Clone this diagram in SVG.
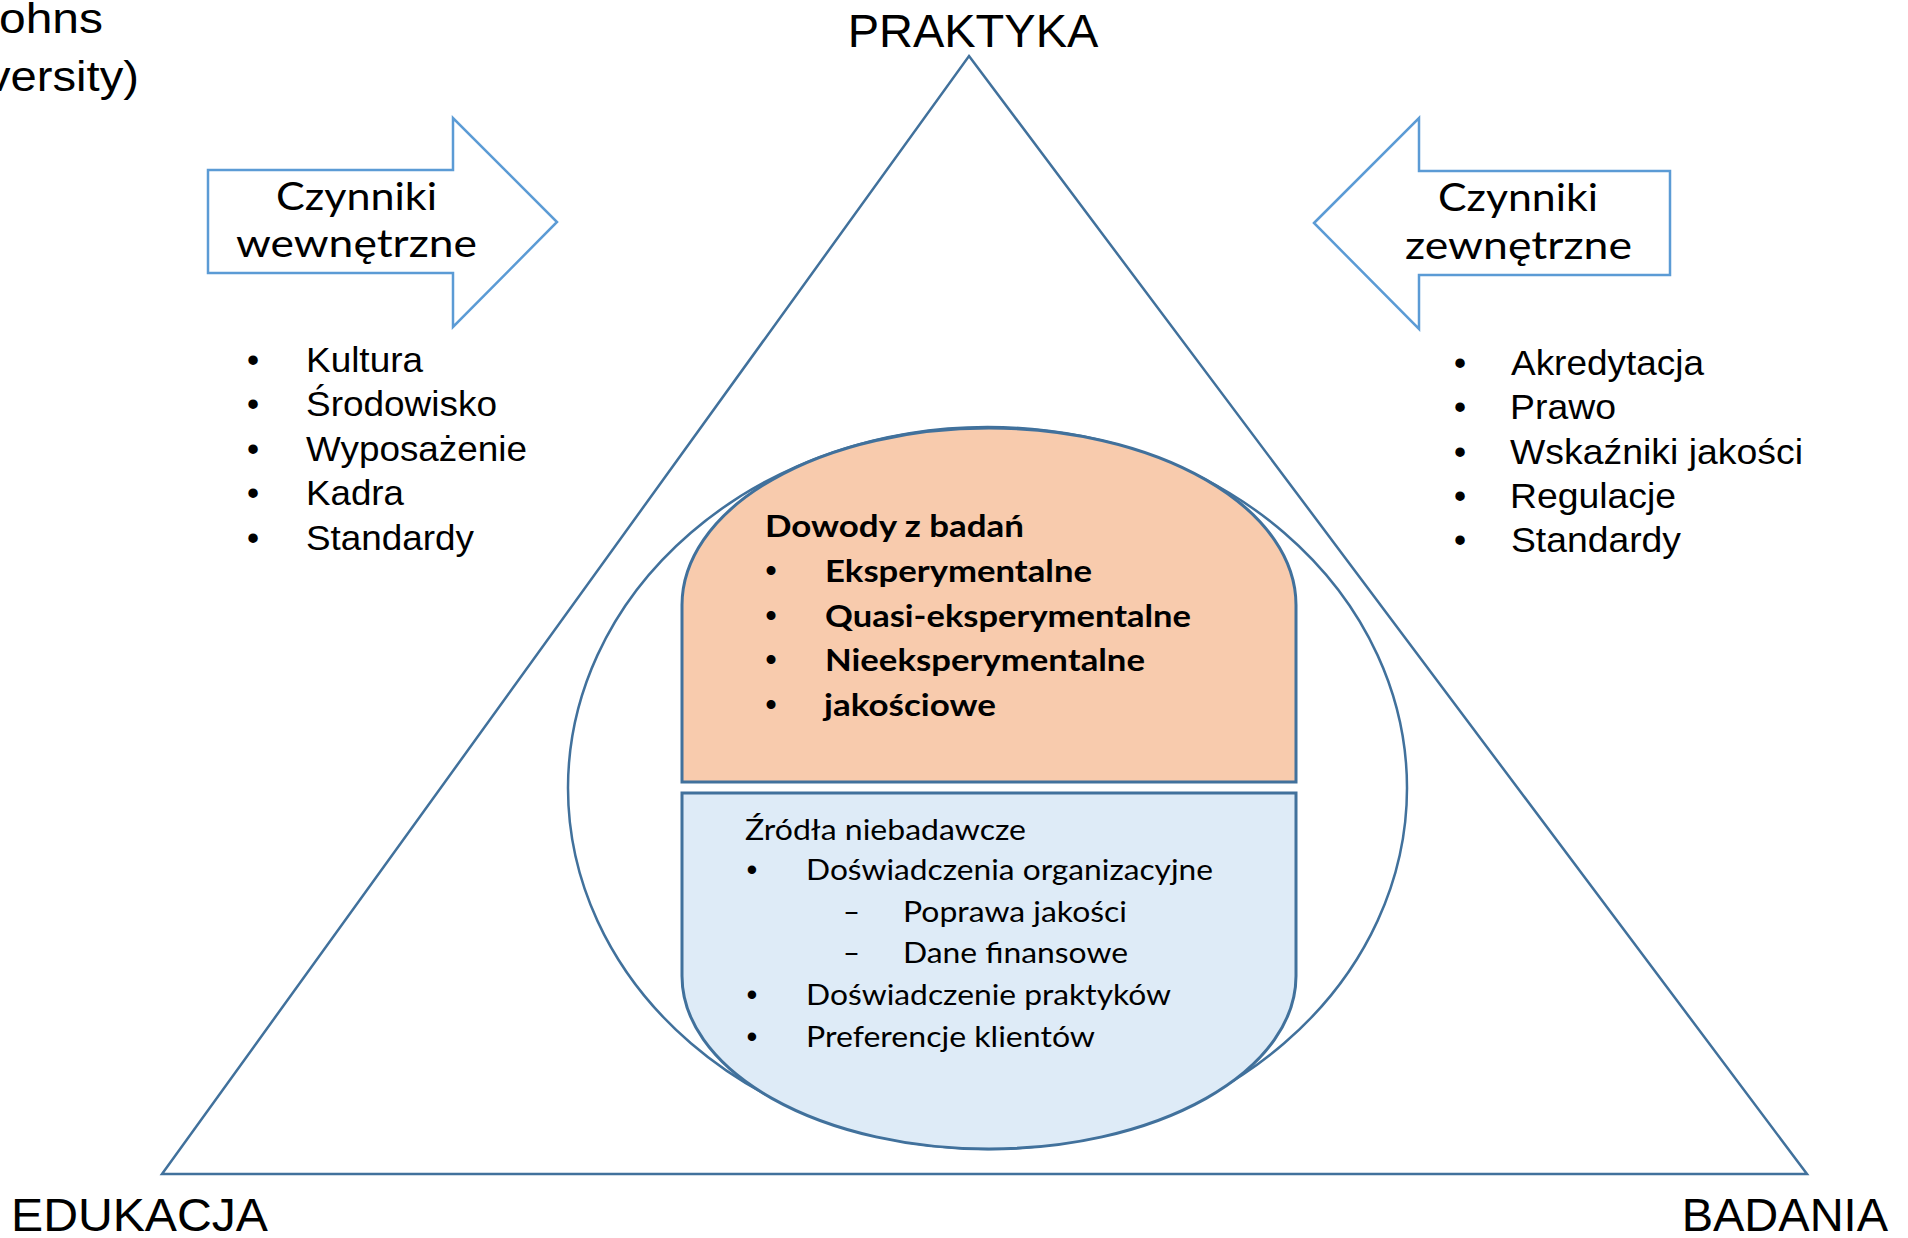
<svg xmlns="http://www.w3.org/2000/svg" width="1908" height="1238" viewBox="0 0 1908 1238">
<style>
.bg{fill:#ffffff}
.edge{fill:none;stroke:#41719C;stroke-width:2.5}
.blk{fill:#ffffff;stroke:#5B9BD5;stroke-width:2.5}
.ev{fill:#F8CBAD;stroke:#41719C;stroke-width:3}
.nr{fill:#DEEBF7;stroke:#41719C;stroke-width:3}
.ar{font-family:"Liberation Sans",Arial,sans-serif;fill:#000}
.cb{font-family:Lato,"Noto Sans",sans-serif;fill:#000}
.corner{font-size:47px}
.lst{font-size:34.5px}
.arw{font-size:39.5px;text-anchor:middle}
.evt{font-size:30px;font-weight:bold}
.nrt{font-size:28px}
.bul{text-anchor:middle}
</style>
<rect class="bg" x="0" y="0" width="1908" height="1238"/>

<g id="source-fragment">
<text class="ar" x="-1" y="33" font-size="43" textLength="104" lengthAdjust="spacingAndGlyphs">ohns</text>
<text class="ar" x="-13" y="91" font-size="43" textLength="152" lengthAdjust="spacingAndGlyphs">versity)</text>
</g>

<g id="triangle">
<polygon class="edge" points="969,56 1807,1174 162,1174"/>
</g>

<g id="corner-labels">
<text id="label-praktyka" class="ar corner" x="973" y="47" text-anchor="middle">PRAKTYKA</text>
<text id="label-edukacja" class="ar corner" x="11" y="1231" textLength="257" lengthAdjust="spacingAndGlyphs">EDUKACJA</text>
<text id="label-badania" class="ar corner" x="1888" y="1231" text-anchor="end">BADANIA</text>
</g>

<g id="ellipse">
<ellipse class="edge" cx="987.5" cy="788" rx="419.5" ry="361"/>
</g>

<g id="evidence">
<path class="ev" d="M682,782 L682,605 A307,177 0 0 1 989,428 A307,177 0 0 1 1296,605 L1296,782 Z"/>
<text class="cb evt" x="765" y="537" textLength="259" lengthAdjust="spacingAndGlyphs">Dowody z badań</text>
<g class="ar bul" font-size="33">
<text x="771" y="582">•</text>
<text x="771" y="627">•</text>
<text x="771" y="671">•</text>
<text x="771" y="716">•</text>
</g>
<text class="cb evt" x="825" y="582" textLength="267" lengthAdjust="spacingAndGlyphs">Eksperymentalne</text>
<text class="cb evt" x="825" y="627" textLength="366" lengthAdjust="spacingAndGlyphs">Quasi-eksperymentalne</text>
<text class="cb evt" x="825" y="671" textLength="320" lengthAdjust="spacingAndGlyphs">Nieeksperymentalne</text>
<text class="cb evt" x="824" y="716" textLength="172" lengthAdjust="spacingAndGlyphs">jakościowe</text>
</g>

<g id="non-research">
<path class="nr" d="M682,793 L1296,793 L1296,976 A307,173 0 0 1 989,1149 A307,173 0 0 1 682,976 Z"/>
<text class="cb nrt" x="745" y="840" textLength="281" lengthAdjust="spacingAndGlyphs">Źródła niebadawcze</text>
<g class="ar bul" font-size="31">
<text x="752" y="880">•</text>
<text x="752" y="1005">•</text>
<text x="752" y="1047">•</text>
</g>
<text class="cb nrt" x="806" y="880" textLength="407" lengthAdjust="spacingAndGlyphs">Doświadczenia organizacyjne</text>
<text class="cb nrt" x="843" y="922" textLength="17" lengthAdjust="spacingAndGlyphs">–</text>
<text class="cb nrt" x="843" y="963" textLength="17" lengthAdjust="spacingAndGlyphs">–</text>
<text class="cb nrt" x="903" y="922" textLength="224" lengthAdjust="spacingAndGlyphs">Poprawa jakości</text>
<text class="cb nrt" x="903" y="963" textLength="225" lengthAdjust="spacingAndGlyphs">Dane finansowe</text>
<text class="cb nrt" x="806" y="1005" textLength="365" lengthAdjust="spacingAndGlyphs">Doświadczenie praktyków</text>
<text class="cb nrt" x="806" y="1047" textLength="289" lengthAdjust="spacingAndGlyphs">Preferencje klientów</text>
</g>

<g id="arrow-internal">
<polygon class="blk" points="208,170 453,170 453,118 557,222 453,327 453,273 208,273"/>
<text class="cb arw" x="356.5" y="210" textLength="161" lengthAdjust="spacingAndGlyphs">Czynniki</text>
<text class="cb arw" x="356.5" y="257" textLength="241" lengthAdjust="spacingAndGlyphs">wewnętrzne</text>
</g>

<g id="arrow-external">
<polygon class="blk" points="1314,223 1419,118 1419,171 1670,171 1670,275 1419,275 1419,329"/>
<text class="cb arw" x="1518" y="211" textLength="160" lengthAdjust="spacingAndGlyphs">Czynniki</text>
<text class="cb arw" x="1518.5" y="259" textLength="227" lengthAdjust="spacingAndGlyphs">zewnętrzne</text>
</g>

<g id="list-internal">
<g class="ar bul lst">
<text x="253" y="372">•</text>
<text x="253" y="416">•</text>
<text x="253" y="461">•</text>
<text x="253" y="505">•</text>
<text x="253" y="550">•</text>
</g>
<text class="ar lst" x="306" y="372" textLength="117" lengthAdjust="spacingAndGlyphs">Kultura</text>
<text class="ar lst" x="306" y="416" textLength="191" lengthAdjust="spacingAndGlyphs">Środowisko</text>
<text class="ar lst" x="306" y="461" textLength="221" lengthAdjust="spacingAndGlyphs">Wyposażenie</text>
<text class="ar lst" x="306" y="505" textLength="98" lengthAdjust="spacingAndGlyphs">Kadra</text>
<text class="ar lst" x="306" y="550" textLength="168" lengthAdjust="spacingAndGlyphs">Standardy</text>
</g>

<g id="list-external">
<g class="ar bul lst">
<text x="1460" y="375">•</text>
<text x="1460" y="419">•</text>
<text x="1460" y="464">•</text>
<text x="1460" y="508">•</text>
<text x="1460" y="552">•</text>
</g>
<text class="ar lst" x="1511" y="375" textLength="193" lengthAdjust="spacingAndGlyphs">Akredytacja</text>
<text class="ar lst" x="1510" y="419" textLength="106" lengthAdjust="spacingAndGlyphs">Prawo</text>
<text class="ar lst" x="1510" y="464" textLength="293" lengthAdjust="spacingAndGlyphs">Wskaźniki jakości</text>
<text class="ar lst" x="1510" y="508" textLength="166" lengthAdjust="spacingAndGlyphs">Regulacje</text>
<text class="ar lst" x="1511" y="552" textLength="170" lengthAdjust="spacingAndGlyphs">Standardy</text>
</g>
</svg>
